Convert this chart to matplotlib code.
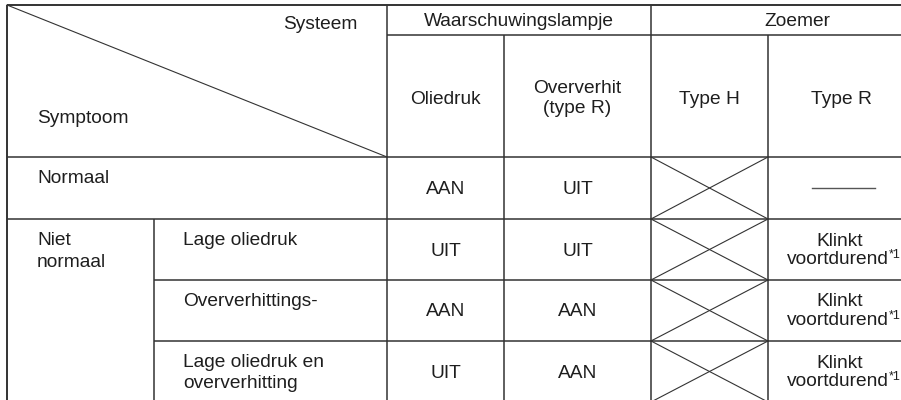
import matplotlib.pyplot as plt

# table content
system_label = 'Systeem'
symptom_label = 'Symptoom'
groups = ['Waarschuwingslampje', 'Zoemer']
columns = ['Oliedruk', 'Oververhit\n(type R)', 'Type H', 'Type R']
row_main = ['Normaal', 'Niet\nnormaal']
row_sub = ['Lage oliedruk', 'Oververhittings-', 'Lage oliedruk en\noververhitting']
oliedruk = ['AAN', 'UIT', 'AAN', 'UIT']
oververhit = ['UIT', 'UIT', 'AAN', 'AAN']
type_h = [None, None, None, None]          # crossed out cells
type_r = ['-', 'Klinkt\nvoortdurend', 'Klinkt\nvoortdurend', 'Klinkt\nvoortdurend']
footnote = '*1'

# layout (pixels)
xs = [7, 154, 387, 504, 651, 768, 915]
ys = [5, 35, 157, 219, 280, 341, 402]

plt.rcParams['font.family'] = ['Liberation Sans', 'DejaVu Sans']
fig = plt.figure(figsize=(9.01, 4.0), dpi=100)
ax = fig.add_axes([0, 0, 1, 1])
ax.set_xlim(0, 901)
ax.set_ylim(400, 0)
ax.axis('off')

lc = '#333333'
tc = '#1e1e1e'
fs = 13.8
lw = 1.1
dy = 1.5   # small downward nudge for text


def hline(y, x0, x1, **kw):
    ax.plot([x0, x1], [y, y], color=kw.get('c', lc), lw=kw.get('lw', lw), solid_capstyle='butt')


def vline(x, y0, y1, **kw):
    ax.plot([x, x], [y0, y1], color=kw.get('c', lc), lw=kw.get('lw', lw), solid_capstyle='butt')


def txt(x, y, s, ha='center', size=fs):
    ax.text(x, y + dy, s, ha=ha, va='center', fontsize=size, color=tc)


# outer frame and grid
hline(ys[0], xs[0], xs[-1], lw=1.4)
vline(xs[0], ys[0], ys[-1], lw=1.4)
hline(ys[1], xs[2], xs[-1])
hline(ys[2], xs[0], xs[-1])
hline(ys[3], xs[0], xs[-1])
hline(ys[4], xs[1], xs[-1])
hline(ys[5], xs[1], xs[-1])
vline(xs[1], ys[3], ys[-1])
vline(xs[2], ys[0], ys[-1])
vline(xs[3], ys[1], ys[-1])
vline(xs[4], ys[0], ys[-1])
vline(xs[5], ys[1], ys[-1])

# diagonal header cell
ax.plot([xs[0], xs[2]], [ys[0], ys[2]], color=lc, lw=0.8)
txt(357, 23, system_label, ha='right')
txt(37, 117, symptom_label, ha='left')

# group headers
txt((xs[2] + xs[4]) / 2, 20, groups[0])
txt(797, 20, groups[1])

# column headers
col_cx = [(xs[2] + xs[3]) / 2, (xs[3] + xs[4]) / 2, (xs[4] + xs[5]) / 2, 841]
for cx, name in zip(col_cx, columns):
    parts = name.split('\n')
    if len(parts) == 1:
        txt(cx, 98, parts[0])
    else:
        txt(cx, 87, parts[0])
        txt(cx, 107, parts[1])

# row labels
for lab, top in zip(row_main, [ys[2], ys[3]]):
    for k, part in enumerate(lab.split('\n')):
        txt(37, top + 20 + 22 * k, part, ha='left')
for lab, top in zip(row_sub, ys[3:6]):
    for k, part in enumerate(lab.split('\n')):
        txt(183, top + 20 + 21 * k, part, ha='left')

# body cells
for i in range(4):
    y0, y1 = ys[2 + i], ys[3 + i]
    cy = (y0 + y1) / 2
    txt(col_cx[0], cy, oliedruk[i])
    txt(col_cx[1], cy, oververhit[i])
    if type_h[i] is None:
        ax.plot([xs[4], xs[5]], [y0, y1], color=lc, lw=0.8)
        ax.plot([xs[4], xs[5]], [y1, y0], color=lc, lw=0.8)
    val = type_r[i]
    if val == '-':
        ax.plot([812, 875], [cy, cy], color='#555555', lw=1.0)
    else:
        a, b = val.split('\n')
        txt(840, cy - 10, a)
        txt(838, cy + 8.5, b)
        txt(889, cy + 4, footnote, ha='left', size=9)

fig.savefig('out.png', dpi=100, facecolor='white')
